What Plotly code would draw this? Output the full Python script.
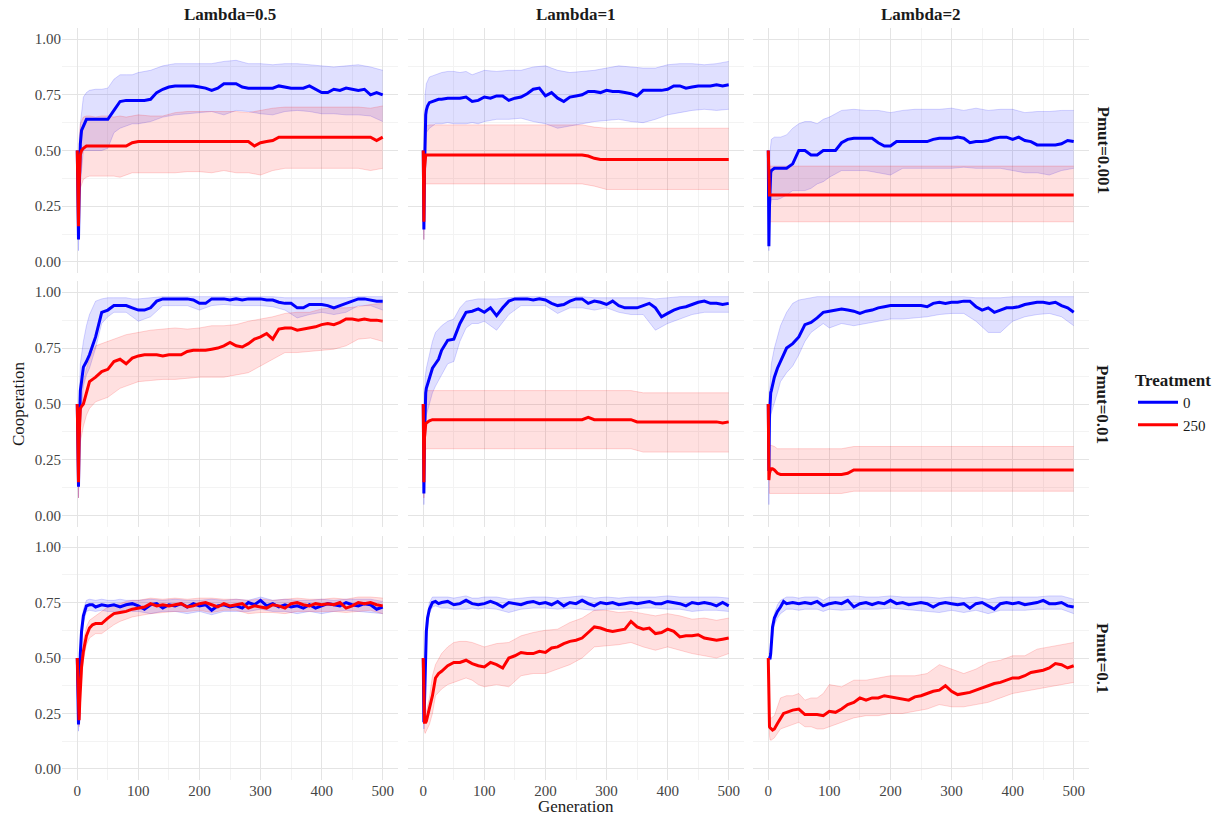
import plotly.graph_objects as go

# ---------------- data ----------------
GEN = [0, 1, 2, 3, 4, 5, 7, 10, 15, 20, 25, 30,
       40, 50, 60, 70, 80, 90, 100, 110, 120, 130,
       140, 150, 160, 170, 180, 190, 200, 210, 220, 230,
       240, 250, 260, 270, 280, 290, 300, 310, 320, 330,
       340, 350, 360, 370, 380, 390, 400, 410, 420, 430,
       440, 450, 460, 470, 480, 490, 500]

GEN_BAND = [0, 1, 2, 3, 5, 10, 15, 20,
            30, 40, 50, 60, 70, 80, 90, 100,
            120, 140, 160, 180, 200, 220, 240, 260, 280, 300,
            320, 340, 360, 380, 400, 420, 440, 460, 480, 500]

LAMBDAS = ["0.5", "1", "2"]
PMUTS = ["0.001", "0.01", "0.1"]
TREATMENTS = ["0", "250"]

# ----- Lambda=0.5, Pmut=0.001 -----
L05_P0001_T0 = [0.50, 0.18, 0.10, 0.30, 0.45, 0.53, 0.59, 0.61, 0.64, 0.64, 0.64, 0.64,
                0.64, 0.64, 0.68, 0.72, 0.725, 0.725, 0.725, 0.725, 0.73, 0.76,
                0.775, 0.785, 0.79, 0.79, 0.79, 0.79, 0.785, 0.78, 0.77, 0.78,
                0.80, 0.80, 0.80, 0.785, 0.78, 0.78, 0.78, 0.78, 0.78, 0.79,
                0.785, 0.78, 0.78, 0.78, 0.79, 0.775, 0.76, 0.76, 0.775, 0.77,
                0.78, 0.775, 0.77, 0.775, 0.75, 0.76, 0.75]
L05_P0001_T250 = [0.50, 0.30, 0.16, 0.35, 0.45, 0.48, 0.50, 0.51, 0.52, 0.52, 0.52, 0.52,
                  0.52, 0.52, 0.52, 0.52, 0.52, 0.535, 0.54, 0.54, 0.54, 0.54,
                  0.54, 0.54, 0.54, 0.54, 0.54, 0.54, 0.54, 0.54, 0.54, 0.54,
                  0.54, 0.54, 0.54, 0.54, 0.54, 0.52, 0.535, 0.54, 0.545, 0.56,
                  0.56, 0.56, 0.56, 0.56, 0.56, 0.56, 0.56, 0.56, 0.56, 0.56,
                  0.56, 0.56, 0.56, 0.56, 0.56, 0.545, 0.56]
L05_P0001_T0_HI = [0.50, 0.30, 0.25, 0.45, 0.62, 0.74, 0.76, 0.77,
                   0.775, 0.775, 0.78, 0.82, 0.84, 0.84, 0.84, 0.85,
                   0.86, 0.88, 0.89, 0.89, 0.89, 0.89, 0.90, 0.905, 0.89, 0.89,
                   0.885, 0.89, 0.89, 0.885, 0.88, 0.875, 0.88, 0.885, 0.875, 0.86]
L05_P0001_T0_LO = [0.50, 0.08, 0.05, 0.20, 0.35, 0.50, 0.50, 0.50,
                   0.50, 0.50, 0.51, 0.58, 0.60, 0.61, 0.62, 0.62,
                   0.63, 0.65, 0.66, 0.665, 0.67, 0.675, 0.66, 0.68, 0.675, 0.665,
                   0.66, 0.675, 0.68, 0.675, 0.665, 0.665, 0.66, 0.66, 0.655, 0.63]
L05_P0001_T250_HI = [0.50, 0.45, 0.40, 0.55, 0.62, 0.65, 0.655, 0.655,
                     0.65, 0.655, 0.655, 0.65, 0.655, 0.65, 0.655, 0.66,
                     0.655, 0.655, 0.67, 0.675, 0.675, 0.675, 0.675, 0.675, 0.67, 0.68,
                     0.69, 0.695, 0.695, 0.695, 0.695, 0.695, 0.695, 0.695, 0.69, 0.70]
L05_P0001_T250_LO = [0.50, 0.18, 0.10, 0.25, 0.33, 0.37, 0.38, 0.385,
                     0.385, 0.385, 0.385, 0.385, 0.38, 0.39, 0.40, 0.40,
                     0.40, 0.40, 0.40, 0.405, 0.405, 0.40, 0.41, 0.40, 0.40, 0.39,
                     0.41, 0.42, 0.42, 0.42, 0.42, 0.42, 0.42, 0.42, 0.41, 0.42]

# ----- Lambda=1, Pmut=0.001 -----
L1_P0001_T0 = [0.50, 0.145, 0.40, 0.60, 0.66, 0.68, 0.70, 0.715, 0.72, 0.725, 0.73, 0.73,
               0.735, 0.735, 0.735, 0.74, 0.72, 0.725, 0.74, 0.735, 0.745, 0.745,
               0.725, 0.735, 0.74, 0.755, 0.775, 0.78, 0.745, 0.76, 0.735, 0.72,
               0.74, 0.745, 0.75, 0.765, 0.765, 0.76, 0.77, 0.765, 0.765, 0.76,
               0.755, 0.745, 0.77, 0.77, 0.77, 0.77, 0.775, 0.79, 0.79, 0.78,
               0.785, 0.79, 0.79, 0.79, 0.795, 0.79, 0.795]
L1_P0001_T250 = [0.50, 0.18, 0.42, 0.47, 0.48, 0.48, 0.48, 0.48, 0.48, 0.48, 0.48, 0.48,
                 0.48, 0.48, 0.48, 0.48, 0.48, 0.48, 0.48, 0.48, 0.48, 0.48,
                 0.48, 0.48, 0.48, 0.48, 0.48, 0.48, 0.48, 0.48, 0.48, 0.48,
                 0.48, 0.48, 0.48, 0.475, 0.465, 0.46, 0.46, 0.46, 0.46, 0.46,
                 0.46, 0.46, 0.46, 0.46, 0.46, 0.46, 0.46, 0.46, 0.46, 0.46,
                 0.46, 0.46, 0.46, 0.46, 0.46, 0.46, 0.46]
L1_P0001_T0_HI = [0.50, 0.30, 0.55, 0.75, 0.80, 0.83, 0.835, 0.84,
                  0.85, 0.855, 0.855, 0.85, 0.855, 0.84, 0.85, 0.86,
                  0.855, 0.86, 0.86, 0.875, 0.88, 0.86, 0.85, 0.855, 0.86, 0.87,
                  0.88, 0.875, 0.87, 0.87, 0.885, 0.89, 0.89, 0.885, 0.89, 0.90]
L1_P0001_T0_LO = [0.50, 0.10, 0.30, 0.50, 0.58, 0.60, 0.61, 0.62,
                  0.62, 0.625, 0.62, 0.62, 0.62, 0.625, 0.62, 0.63,
                  0.64, 0.64, 0.645, 0.63, 0.62, 0.60, 0.61, 0.62, 0.63, 0.635,
                  0.64, 0.63, 0.625, 0.64, 0.66, 0.67, 0.68, 0.685, 0.68, 0.685]
L1_P0001_T250_HI = [0.50, 0.30, 0.55, 0.60, 0.61, 0.615, 0.615, 0.615,
                    0.615, 0.615, 0.615, 0.615, 0.615, 0.615, 0.615, 0.615,
                    0.615, 0.615, 0.615, 0.615, 0.615, 0.615, 0.615, 0.615, 0.605, 0.60,
                    0.60, 0.60, 0.60, 0.60, 0.60, 0.60, 0.60, 0.60, 0.60, 0.60]
L1_P0001_T250_LO = [0.50, 0.10, 0.33, 0.35, 0.35, 0.35, 0.35, 0.35,
                    0.35, 0.35, 0.35, 0.35, 0.35, 0.35, 0.35, 0.35,
                    0.35, 0.35, 0.35, 0.35, 0.35, 0.35, 0.35, 0.35, 0.34, 0.325,
                    0.325, 0.325, 0.325, 0.325, 0.325, 0.325, 0.325, 0.325, 0.325, 0.325]

# ----- Lambda=2, Pmut=0.001 -----
L2_P0001_T0 = [0.50, 0.07, 0.25, 0.38, 0.40, 0.41, 0.415, 0.42, 0.42, 0.42, 0.42, 0.42,
               0.44, 0.50, 0.50, 0.48, 0.48, 0.50, 0.50, 0.50, 0.535, 0.55,
               0.555, 0.555, 0.555, 0.555, 0.535, 0.52, 0.52, 0.54, 0.54, 0.54,
               0.54, 0.54, 0.54, 0.55, 0.555, 0.555, 0.555, 0.56, 0.555, 0.535,
               0.54, 0.54, 0.545, 0.555, 0.56, 0.56, 0.55, 0.56, 0.545, 0.54,
               0.525, 0.525, 0.525, 0.525, 0.53, 0.545, 0.54]
L2_P0001_T250 = [0.50, 0.30, 0.30, 0.30, 0.30, 0.30, 0.30, 0.30, 0.30, 0.30, 0.30, 0.30,
                 0.30, 0.30, 0.30, 0.30, 0.30, 0.30, 0.30, 0.30, 0.30, 0.30,
                 0.30, 0.30, 0.30, 0.30, 0.30, 0.30, 0.30, 0.30, 0.30, 0.30,
                 0.30, 0.30, 0.30, 0.30, 0.30, 0.30, 0.30, 0.30, 0.30, 0.30,
                 0.30, 0.30, 0.30, 0.30, 0.30, 0.30, 0.30, 0.30, 0.30, 0.30,
                 0.30, 0.30, 0.30, 0.30, 0.30, 0.30, 0.30]
L2_P0001_T0_HI = [0.50, 0.10, 0.40, 0.50, 0.55, 0.56, 0.56, 0.56,
                  0.57, 0.60, 0.62, 0.63, 0.63, 0.62, 0.64, 0.65,
                  0.68, 0.685, 0.68, 0.68, 0.67, 0.68, 0.685, 0.685, 0.685, 0.69,
                  0.68, 0.69, 0.68, 0.685, 0.685, 0.67, 0.675, 0.675, 0.68, 0.68]
L2_P0001_T0_LO = [0.50, 0.05, 0.15, 0.25, 0.28, 0.28, 0.28, 0.285,
                  0.30, 0.32, 0.32, 0.32, 0.33, 0.35, 0.36, 0.38,
                  0.41, 0.41, 0.41, 0.40, 0.39, 0.42, 0.42, 0.42, 0.42, 0.42,
                  0.425, 0.42, 0.42, 0.42, 0.41, 0.40, 0.40, 0.39, 0.41, 0.42]
L2_P0001_T250_HI = [0.50, 0.40, 0.43, 0.43, 0.43, 0.43, 0.43, 0.43,
                    0.43, 0.43, 0.43, 0.43, 0.43, 0.43, 0.43, 0.43,
                    0.43, 0.43, 0.43, 0.43, 0.43, 0.43, 0.43, 0.43, 0.43, 0.43,
                    0.43, 0.43, 0.43, 0.43, 0.43, 0.43, 0.43, 0.43, 0.43, 0.43]
L2_P0001_T250_LO = [0.50, 0.20, 0.18, 0.18, 0.18, 0.18, 0.18, 0.18,
                    0.18, 0.18, 0.18, 0.18, 0.18, 0.18, 0.18, 0.18,
                    0.18, 0.18, 0.18, 0.18, 0.18, 0.18, 0.18, 0.18, 0.18, 0.18,
                    0.18, 0.18, 0.18, 0.18, 0.18, 0.18, 0.18, 0.18, 0.18, 0.18]

# ----- Lambda=0.5, Pmut=0.01 -----
L05_P001_T0 = [0.50, 0.25, 0.13, 0.35, 0.50, 0.56, 0.60, 0.665, 0.69, 0.72, 0.76, 0.80,
               0.91, 0.92, 0.94, 0.94, 0.94, 0.93, 0.92, 0.92, 0.93, 0.96,
               0.97, 0.97, 0.97, 0.97, 0.97, 0.965, 0.95, 0.95, 0.97, 0.97,
               0.97, 0.965, 0.97, 0.965, 0.97, 0.97, 0.97, 0.965, 0.965, 0.955,
               0.95, 0.95, 0.93, 0.93, 0.945, 0.945, 0.945, 0.94, 0.93, 0.94,
               0.95, 0.96, 0.97, 0.97, 0.965, 0.96, 0.96]
L05_P001_T250 = [0.50, 0.30, 0.15, 0.35, 0.45, 0.48, 0.49, 0.50, 0.55, 0.60, 0.61, 0.62,
                 0.645, 0.655, 0.69, 0.70, 0.68, 0.705, 0.715, 0.72, 0.72, 0.72,
                 0.715, 0.72, 0.72, 0.72, 0.735, 0.74, 0.74, 0.74, 0.745, 0.75,
                 0.76, 0.775, 0.76, 0.755, 0.77, 0.79, 0.80, 0.815, 0.79, 0.835,
                 0.84, 0.84, 0.83, 0.835, 0.84, 0.845, 0.855, 0.86, 0.855, 0.865,
                 0.88, 0.88, 0.875, 0.88, 0.875, 0.875, 0.87]
L05_P001_T0_HI = [0.50, 0.35, 0.20, 0.50, 0.68, 0.78, 0.85, 0.90,
                  0.96, 0.97, 0.975, 0.975, 0.975, 0.975, 0.97, 0.97,
                  0.975, 0.98, 0.98, 0.98, 0.98, 0.98, 0.98, 0.98, 0.98, 0.98,
                  0.98, 0.975, 0.975, 0.975, 0.975, 0.975, 0.975, 0.98, 0.98, 0.98]
L05_P001_T0_LO = [0.50, 0.15, 0.08, 0.25, 0.42, 0.58, 0.63, 0.66,
                  0.75, 0.86, 0.89, 0.91, 0.91, 0.91, 0.89, 0.87,
                  0.89, 0.94, 0.94, 0.94, 0.92, 0.94, 0.945, 0.94, 0.94, 0.94,
                  0.935, 0.92, 0.885, 0.90, 0.91, 0.90, 0.91, 0.94, 0.94, 0.92]
L05_P001_T250_HI = [0.50, 0.40, 0.25, 0.45, 0.55, 0.60, 0.66, 0.70,
                    0.76, 0.77, 0.78, 0.79, 0.80, 0.81, 0.815, 0.82,
                    0.83, 0.835, 0.84, 0.835, 0.84, 0.85, 0.85, 0.855, 0.87, 0.88,
                    0.89, 0.905, 0.91, 0.91, 0.925, 0.93, 0.93, 0.935, 0.945, 0.95]
L05_P001_T250_LO = [0.50, 0.20, 0.08, 0.22, 0.33, 0.40, 0.45, 0.48,
                    0.51, 0.52, 0.53, 0.55, 0.57, 0.58, 0.59, 0.60,
                    0.605, 0.61, 0.61, 0.615, 0.62, 0.62, 0.62, 0.63, 0.64, 0.67,
                    0.70, 0.73, 0.73, 0.735, 0.74, 0.745, 0.76, 0.79, 0.795, 0.78]

# ----- Lambda=1, Pmut=0.01 -----
L1_P001_T0 = [0.50, 0.10, 0.35, 0.50, 0.55, 0.57, 0.59, 0.62, 0.66, 0.68, 0.70, 0.74,
              0.785, 0.79, 0.86, 0.91, 0.915, 0.925, 0.91, 0.93, 0.895, 0.93,
              0.96, 0.97, 0.97, 0.97, 0.965, 0.97, 0.965, 0.95, 0.94, 0.945,
              0.96, 0.97, 0.97, 0.95, 0.96, 0.955, 0.945, 0.96, 0.94, 0.93,
              0.93, 0.93, 0.94, 0.95, 0.93, 0.89, 0.905, 0.92, 0.93, 0.935,
              0.945, 0.955, 0.96, 0.95, 0.95, 0.945, 0.95]
L1_P001_T250 = [0.50, 0.15, 0.35, 0.40, 0.41, 0.415, 0.42, 0.425, 0.43, 0.43, 0.43, 0.43,
                0.43, 0.43, 0.43, 0.43, 0.43, 0.43, 0.43, 0.43, 0.43, 0.43,
                0.43, 0.43, 0.43, 0.43, 0.43, 0.43, 0.43, 0.43, 0.43, 0.43,
                0.43, 0.43, 0.43, 0.44, 0.43, 0.43, 0.43, 0.43, 0.43, 0.43,
                0.43, 0.42, 0.42, 0.42, 0.42, 0.42, 0.42, 0.42, 0.42, 0.42,
                0.42, 0.42, 0.42, 0.42, 0.42, 0.415, 0.42]
L1_P001_T0_HI = [0.50, 0.25, 0.50, 0.62, 0.66, 0.72, 0.78, 0.82,
                 0.85, 0.87, 0.88, 0.93, 0.96, 0.965, 0.97, 0.97,
                 0.97, 0.975, 0.98, 0.98, 0.98, 0.98, 0.98, 0.98, 0.975, 0.975,
                 0.975, 0.975, 0.975, 0.97, 0.975, 0.98, 0.98, 0.98, 0.98, 0.98]
L1_P001_T0_LO = [0.50, 0.05, 0.20, 0.38, 0.45, 0.50, 0.55, 0.58,
                 0.63, 0.68, 0.69, 0.78, 0.84, 0.86, 0.86, 0.87,
                 0.83, 0.90, 0.94, 0.94, 0.94, 0.905, 0.93, 0.93, 0.92, 0.93,
                 0.91, 0.90, 0.90, 0.83, 0.86, 0.88, 0.90, 0.91, 0.91, 0.91]
L1_P001_T250_HI = [0.50, 0.30, 0.50, 0.55, 0.56, 0.56, 0.56, 0.56,
                   0.56, 0.56, 0.56, 0.56, 0.56, 0.56, 0.56, 0.56,
                   0.56, 0.56, 0.56, 0.56, 0.56, 0.56, 0.56, 0.56, 0.56, 0.56,
                   0.56, 0.56, 0.55, 0.55, 0.55, 0.55, 0.55, 0.55, 0.55, 0.55]
L1_P001_T250_LO = [0.50, 0.08, 0.25, 0.29, 0.30, 0.30, 0.30, 0.30,
                   0.30, 0.30, 0.30, 0.30, 0.30, 0.30, 0.30, 0.30,
                   0.30, 0.30, 0.30, 0.30, 0.30, 0.30, 0.30, 0.30, 0.30, 0.30,
                   0.30, 0.30, 0.285, 0.285, 0.285, 0.285, 0.285, 0.285, 0.285, 0.285]

# ----- Lambda=2, Pmut=0.01 -----
L2_P001_T0 = [0.50, 0.20, 0.45, 0.52, 0.55, 0.56, 0.59, 0.62, 0.66, 0.69, 0.715, 0.75,
              0.77, 0.80, 0.855, 0.865, 0.885, 0.91, 0.915, 0.92, 0.925, 0.92,
              0.915, 0.905, 0.915, 0.92, 0.93, 0.935, 0.94, 0.94, 0.94, 0.94,
              0.94, 0.94, 0.935, 0.95, 0.955, 0.95, 0.955, 0.955, 0.96, 0.96,
              0.935, 0.92, 0.93, 0.91, 0.92, 0.93, 0.93, 0.935, 0.945, 0.95,
              0.955, 0.955, 0.95, 0.955, 0.94, 0.93, 0.91]
L2_P001_T250 = [0.50, 0.16, 0.19, 0.20, 0.205, 0.21, 0.21, 0.205, 0.19, 0.185, 0.185, 0.185,
                0.185, 0.185, 0.185, 0.185, 0.185, 0.185, 0.185, 0.185, 0.185, 0.19,
                0.205, 0.205, 0.205, 0.205, 0.205, 0.205, 0.205, 0.205, 0.205, 0.205,
                0.205, 0.205, 0.205, 0.205, 0.205, 0.205, 0.205, 0.205, 0.205, 0.205,
                0.205, 0.205, 0.205, 0.205, 0.205, 0.205, 0.205, 0.205, 0.205, 0.205,
                0.205, 0.205, 0.205, 0.205, 0.205, 0.205, 0.205]
L2_P001_T0_HI = [0.50, 0.40, 0.55, 0.62, 0.68, 0.75, 0.80, 0.85,
                 0.91, 0.95, 0.965, 0.97, 0.975, 0.98, 0.98, 0.98,
                 0.98, 0.98, 0.98, 0.98, 0.98, 0.98, 0.98, 0.98, 0.98, 0.98,
                 0.98, 0.975, 0.975, 0.975, 0.98, 0.98, 0.98, 0.98, 0.98, 0.98]
L2_P001_T0_LO = [0.50, 0.05, 0.35, 0.42, 0.46, 0.50, 0.55, 0.60,
                 0.64, 0.67, 0.72, 0.78, 0.82, 0.84, 0.86, 0.84,
                 0.86, 0.85, 0.86, 0.87, 0.88, 0.88, 0.885, 0.89, 0.90, 0.905,
                 0.905, 0.87, 0.82, 0.82, 0.87, 0.89, 0.90, 0.905, 0.89, 0.85]
L2_P001_T250_HI = [0.50, 0.30, 0.31, 0.315, 0.315, 0.31, 0.30, 0.30,
                   0.30, 0.30, 0.30, 0.30, 0.30, 0.30, 0.30, 0.30,
                   0.30, 0.31, 0.31, 0.31, 0.31, 0.31, 0.31, 0.31, 0.31, 0.31,
                   0.31, 0.31, 0.31, 0.31, 0.31, 0.31, 0.31, 0.31, 0.31, 0.31]
L2_P001_T250_LO = [0.50, 0.10, 0.10, 0.10, 0.10, 0.10, 0.10, 0.10,
                   0.10, 0.10, 0.10, 0.10, 0.10, 0.10, 0.10, 0.10,
                   0.10, 0.11, 0.11, 0.11, 0.11, 0.11, 0.11, 0.11, 0.11, 0.11,
                   0.11, 0.11, 0.11, 0.11, 0.11, 0.11, 0.11, 0.11, 0.11, 0.11]

# ----- Lambda=0.5, Pmut=0.1 -----
L05_P01_T0 = [0.50, 0.30, 0.20, 0.30, 0.45, 0.52, 0.62, 0.69, 0.735, 0.74, 0.74, 0.73,
              0.74, 0.735, 0.74, 0.73, 0.74, 0.745, 0.735, 0.72, 0.74, 0.745,
              0.725, 0.74, 0.735, 0.745, 0.73, 0.745, 0.735, 0.74, 0.715, 0.735,
              0.74, 0.73, 0.735, 0.725, 0.75, 0.74, 0.76, 0.735, 0.745, 0.73,
              0.74, 0.73, 0.735, 0.725, 0.74, 0.725, 0.735, 0.745, 0.74, 0.735,
              0.75, 0.74, 0.735, 0.745, 0.74, 0.72, 0.73]
L05_P01_T250 = [0.50, 0.35, 0.25, 0.22, 0.30, 0.38, 0.46, 0.53, 0.60, 0.635, 0.65, 0.655,
                0.655, 0.68, 0.70, 0.705, 0.71, 0.72, 0.725, 0.73, 0.745, 0.735,
                0.74, 0.735, 0.74, 0.745, 0.73, 0.735, 0.745, 0.75, 0.74, 0.73,
                0.745, 0.735, 0.74, 0.745, 0.725, 0.735, 0.73, 0.725, 0.74, 0.735,
                0.725, 0.745, 0.75, 0.74, 0.735, 0.745, 0.74, 0.745, 0.74, 0.75,
                0.725, 0.735, 0.75, 0.745, 0.75, 0.74, 0.735]
L05_P01_T0_HI = [0.50, 0.32, 0.23, 0.34, 0.55, 0.72, 0.76, 0.765,
                 0.76, 0.765, 0.76, 0.76, 0.765, 0.76, 0.76, 0.76,
                 0.765, 0.76, 0.765, 0.76, 0.76, 0.765, 0.76, 0.765, 0.76, 0.775,
                 0.76, 0.765, 0.76, 0.76, 0.765, 0.76, 0.765, 0.765, 0.765, 0.755]
L05_P01_T0_LO = [0.50, 0.25, 0.17, 0.26, 0.48, 0.66, 0.71, 0.715,
                 0.71, 0.715, 0.71, 0.71, 0.71, 0.715, 0.71, 0.71,
                 0.70, 0.71, 0.71, 0.70, 0.71, 0.695, 0.71, 0.71, 0.71, 0.72,
                 0.71, 0.71, 0.70, 0.71, 0.70, 0.71, 0.715, 0.71, 0.705, 0.70]
L05_P01_T250_HI = [0.50, 0.37, 0.28, 0.26, 0.42, 0.58, 0.64, 0.67,
                   0.69, 0.71, 0.73, 0.74, 0.745, 0.755, 0.76, 0.76,
                   0.77, 0.765, 0.77, 0.765, 0.77, 0.77, 0.765, 0.765, 0.76, 0.765,
                   0.76, 0.765, 0.77, 0.765, 0.765, 0.77, 0.765, 0.775, 0.775, 0.77]
L05_P01_T250_LO = [0.50, 0.32, 0.22, 0.19, 0.34, 0.49, 0.56, 0.59,
                   0.61, 0.61, 0.63, 0.65, 0.665, 0.675, 0.685, 0.69,
                   0.70, 0.705, 0.71, 0.71, 0.715, 0.705, 0.715, 0.715, 0.70, 0.705,
                   0.705, 0.70, 0.71, 0.71, 0.71, 0.71, 0.705, 0.71, 0.715, 0.70]

# ----- Lambda=1, Pmut=0.1 -----
L1_P01_T0 = [0.50, 0.21, 0.30, 0.42, 0.50, 0.62, 0.68, 0.72, 0.75, 0.755, 0.745, 0.75,
             0.755, 0.74, 0.745, 0.76, 0.745, 0.74, 0.745, 0.755, 0.745, 0.73,
             0.75, 0.745, 0.74, 0.75, 0.755, 0.745, 0.75, 0.74, 0.755, 0.735,
             0.75, 0.745, 0.76, 0.745, 0.735, 0.75, 0.745, 0.75, 0.74, 0.745,
             0.75, 0.745, 0.75, 0.755, 0.745, 0.745, 0.755, 0.75, 0.745, 0.735,
             0.75, 0.745, 0.75, 0.745, 0.735, 0.75, 0.735]
L1_P01_T250 = [0.50, 0.30, 0.21, 0.21, 0.21, 0.215, 0.24, 0.27, 0.33, 0.41, 0.43, 0.44,
               0.465, 0.48, 0.48, 0.49, 0.475, 0.465, 0.46, 0.48, 0.47, 0.455,
               0.50, 0.51, 0.525, 0.52, 0.52, 0.53, 0.525, 0.545, 0.55, 0.565,
               0.575, 0.58, 0.59, 0.615, 0.64, 0.635, 0.625, 0.62, 0.625, 0.63,
               0.665, 0.64, 0.63, 0.635, 0.61, 0.615, 0.63, 0.62, 0.595, 0.60,
               0.60, 0.605, 0.59, 0.585, 0.58, 0.585, 0.59]
L1_P01_T0_HI = [0.50, 0.24, 0.34, 0.46, 0.66, 0.75, 0.775, 0.775,
                0.775, 0.775, 0.77, 0.775, 0.78, 0.77, 0.77, 0.775,
                0.775, 0.765, 0.77, 0.775, 0.775, 0.77, 0.775, 0.78, 0.77, 0.775,
                0.77, 0.775, 0.775, 0.775, 0.78, 0.775, 0.775, 0.775, 0.775, 0.77]
L1_P01_T0_LO = [0.50, 0.18, 0.26, 0.38, 0.58, 0.70, 0.73, 0.735,
                0.725, 0.725, 0.72, 0.72, 0.72, 0.725, 0.72, 0.725,
                0.72, 0.705, 0.72, 0.725, 0.725, 0.72, 0.725, 0.72, 0.715, 0.72,
                0.72, 0.72, 0.725, 0.725, 0.72, 0.72, 0.71, 0.715, 0.715, 0.71]
L1_P01_T250_HI = [0.50, 0.34, 0.25, 0.25, 0.26, 0.32, 0.42, 0.47,
                  0.52, 0.55, 0.57, 0.575, 0.575, 0.57, 0.56, 0.55,
                  0.565, 0.57, 0.60, 0.615, 0.625, 0.63, 0.66, 0.68, 0.715, 0.715,
                  0.705, 0.71, 0.70, 0.69, 0.70, 0.69, 0.675, 0.68, 0.67, 0.68]
L1_P01_T250_LO = [0.50, 0.26, 0.17, 0.16, 0.17, 0.20, 0.25, 0.33,
                  0.36, 0.38, 0.39, 0.40, 0.41, 0.40, 0.38, 0.37,
                  0.38, 0.37, 0.42, 0.43, 0.43, 0.45, 0.47, 0.50, 0.55, 0.555,
                  0.56, 0.57, 0.55, 0.535, 0.55, 0.535, 0.52, 0.51, 0.50, 0.52]

# ----- Lambda=2, Pmut=0.1 -----
L2_P01_T0 = [0.50, 0.50, 0.50, 0.50, 0.52, 0.58, 0.64, 0.68, 0.71, 0.73, 0.755, 0.745,
             0.75, 0.745, 0.75, 0.745, 0.755, 0.735, 0.745, 0.75, 0.745, 0.76,
             0.73, 0.745, 0.75, 0.74, 0.75, 0.745, 0.76, 0.745, 0.75, 0.74,
             0.745, 0.75, 0.745, 0.73, 0.745, 0.75, 0.745, 0.74, 0.745, 0.725,
             0.745, 0.75, 0.735, 0.72, 0.745, 0.75, 0.745, 0.75, 0.74, 0.745,
             0.75, 0.76, 0.745, 0.745, 0.75, 0.735, 0.73]
L2_P01_T250 = [0.50, 0.28, 0.19, 0.185, 0.18, 0.18, 0.175, 0.18, 0.205, 0.23, 0.25, 0.255,
               0.265, 0.27, 0.245, 0.245, 0.245, 0.24, 0.26, 0.255, 0.27, 0.29,
               0.30, 0.32, 0.31, 0.32, 0.32, 0.33, 0.325, 0.32, 0.315, 0.31,
               0.325, 0.33, 0.34, 0.35, 0.355, 0.375, 0.35, 0.335, 0.34, 0.345,
               0.355, 0.365, 0.375, 0.385, 0.39, 0.40, 0.41, 0.41, 0.42, 0.435,
               0.44, 0.445, 0.455, 0.475, 0.47, 0.455, 0.465]
L2_P01_T0_HI = [0.50, 0.50, 0.50, 0.51, 0.60, 0.70, 0.74, 0.76,
                0.775, 0.775, 0.77, 0.775, 0.775, 0.775, 0.76, 0.775,
                0.775, 0.78, 0.775, 0.775, 0.78, 0.775, 0.775, 0.775, 0.77, 0.775,
                0.77, 0.775, 0.765, 0.775, 0.775, 0.775, 0.775, 0.78, 0.78, 0.765]
L2_P01_T0_LO = [0.50, 0.50, 0.50, 0.49, 0.55, 0.65, 0.68, 0.70,
                0.72, 0.72, 0.715, 0.72, 0.72, 0.72, 0.71, 0.72,
                0.715, 0.72, 0.72, 0.72, 0.725, 0.72, 0.715, 0.71, 0.705, 0.715,
                0.705, 0.715, 0.70, 0.715, 0.715, 0.715, 0.72, 0.72, 0.72, 0.70]
L2_P01_T250_HI = [0.50, 0.32, 0.24, 0.23, 0.23, 0.24, 0.28, 0.32,
                  0.33, 0.33, 0.34, 0.31, 0.32, 0.32, 0.34, 0.38,
                  0.37, 0.40, 0.40, 0.41, 0.42, 0.42, 0.42, 0.43, 0.47, 0.45,
                  0.43, 0.45, 0.48, 0.49, 0.51, 0.51, 0.54, 0.55, 0.56, 0.57]
L2_P01_T250_LO = [0.50, 0.24, 0.15, 0.13, 0.13, 0.14, 0.16, 0.18,
                  0.19, 0.20, 0.21, 0.19, 0.19, 0.18, 0.18, 0.19,
                  0.21, 0.23, 0.24, 0.24, 0.25, 0.25, 0.26, 0.27, 0.29, 0.28,
                  0.28, 0.29, 0.30, 0.32, 0.34, 0.35, 0.36, 0.37, 0.38, 0.39]

Y_TICKS = [0, 0.25, 0.5, 0.75, 1.0]
Y_TICK_LABELS = ["0.00", "0.25", "0.50", "0.75", "1.00"]
X_TICKS = [0, 100, 200, 300, 400, 500]

# panel table: (row Pmut, col Lambda) -> (T0 mean, T0 lo, T0 hi, T250 mean, T250 lo, T250 hi)
PANELS = {
    (0, 0): (L05_P0001_T0, L05_P0001_T0_LO, L05_P0001_T0_HI, L05_P0001_T250, L05_P0001_T250_LO, L05_P0001_T250_HI),
    (0, 1): (L1_P0001_T0, L1_P0001_T0_LO, L1_P0001_T0_HI, L1_P0001_T250, L1_P0001_T250_LO, L1_P0001_T250_HI),
    (0, 2): (L2_P0001_T0, L2_P0001_T0_LO, L2_P0001_T0_HI, L2_P0001_T250, L2_P0001_T250_LO, L2_P0001_T250_HI),
    (1, 0): (L05_P001_T0, L05_P001_T0_LO, L05_P001_T0_HI, L05_P001_T250, L05_P001_T250_LO, L05_P001_T250_HI),
    (1, 1): (L1_P001_T0, L1_P001_T0_LO, L1_P001_T0_HI, L1_P001_T250, L1_P001_T250_LO, L1_P001_T250_HI),
    (1, 2): (L2_P001_T0, L2_P001_T0_LO, L2_P001_T0_HI, L2_P001_T250, L2_P001_T250_LO, L2_P001_T250_HI),
    (2, 0): (L05_P01_T0, L05_P01_T0_LO, L05_P01_T0_HI, L05_P01_T250, L05_P01_T250_LO, L05_P01_T250_HI),
    (2, 1): (L1_P01_T0, L1_P01_T0_LO, L1_P01_T0_HI, L1_P01_T250, L1_P01_T250_LO, L1_P01_T250_HI),
    (2, 2): (L2_P01_T0, L2_P01_T0_LO, L2_P01_T0_HI, L2_P01_T250, L2_P01_T250_LO, L2_P01_T250_HI),
}

for key, arrs in PANELS.items():
    for i, a in enumerate(arrs):
        n = len(GEN) if i in (0, 3) else len(GEN_BAND)
        if len(a) != n:
            raise ValueError(f"panel {key} array {i} has {len(a)} values, expected {n}")

# ---------------- styling ----------------
W, H = 1228, 819
FONT = "Liberation Serif"
COL_PX = [(62, 398), (408, 744), (753, 1089)]
ROW_PX = [(28, 273), (281, 527), (536, 780)]
COLORS = {"0": "#0000ff", "250": "#ff0000"}
FILLS = {"0": "rgba(0,0,255,0.12)", "250": "rgba(255,0,0,0.12)"}
EDGES = {"0": "rgba(0,0,255,0.16)", "250": "rgba(255,0,0,0.16)"}

fig = go.Figure()
layout = {}

for (r, c), (b, b_lo, b_hi, rd, r_lo, r_hi) in PANELS.items():
    k = r * 3 + c
    s = "" if k == 0 else str(k + 1)
    xa, ya = "x" + s, "y" + s
    x0, x1 = COL_PX[c]
    y0, y1 = ROW_PX[r]
    layout["xaxis" + s] = dict(
        domain=[x0 / W, x1 / W], anchor=ya, range=[-25, 525],
        tickvals=X_TICKS, showticklabels=(r == 2),
        showgrid=True, gridcolor="#e4e4e4", gridwidth=1,
        minor=dict(dtick=50, tick0=0, showgrid=True, gridcolor="#f3f3f3", gridwidth=1),
        zeroline=False, showline=False, ticks="",
        tickfont=dict(family=FONT, size=15, color="#444444"),
    )
    layout["yaxis" + s] = dict(
        domain=[1 - y1 / H, 1 - y0 / H], anchor=xa, range=[-0.05, 1.05],
        tickvals=Y_TICKS, ticktext=Y_TICK_LABELS, showticklabels=(c == 0),
        showgrid=True, gridcolor="#e4e4e4", gridwidth=1,
        minor=dict(dtick=0.125, tick0=0, showgrid=True, gridcolor="#f3f3f3", gridwidth=1),
        zeroline=False, showline=False, ticks="",
        tickfont=dict(family=FONT, size=15, color="#444444"),
    )
    # ribbons
    for t, lo, hi in (("0", b_lo, b_hi), ("250", r_lo, r_hi)):
        fig.add_trace(go.Scatter(x=GEN_BAND, y=lo, xaxis=xa, yaxis=ya, mode="lines",
                                 line=dict(color=EDGES[t], width=1), showlegend=False,
                                 hoverinfo="skip"))
        fig.add_trace(go.Scatter(x=GEN_BAND, y=hi, xaxis=xa, yaxis=ya, mode="lines",
                                 line=dict(color=EDGES[t], width=1), fill="tonexty",
                                 fillcolor=FILLS[t], showlegend=False, hoverinfo="skip"))
    # mean lines
    for t, m in (("0", b), ("250", rd)):
        fig.add_trace(go.Scatter(x=GEN, y=m, xaxis=xa, yaxis=ya, mode="lines",
                                 line=dict(color=COLORS[t], width=3),
                                 name=t, legendgroup=t, showlegend=(k == 0)))

annotations = []
for c, lam in enumerate(LAMBDAS):
    x0, x1 = COL_PX[c]
    annotations.append(dict(text="<b>Lambda=" + lam + "</b>", x=(x0 + x1) / 2 / W, y=1 - 14 / H,
                            xref="paper", yref="paper", showarrow=False,
                            font=dict(family=FONT, size=17, color="#1a1a1a"),
                            xanchor="center", yanchor="middle"))
for r, pm in enumerate(PMUTS):
    y0, y1 = ROW_PX[r]
    annotations.append(dict(text="<b>Pmut=" + pm + "</b>", x=1103 / W, y=1 - (y0 + y1) / 2 / H,
                            xref="paper", yref="paper", showarrow=False, textangle=90,
                            font=dict(family=FONT, size=17, color="#1a1a1a"),
                            xanchor="center", yanchor="middle"))
annotations.append(dict(text="Generation", x=(COL_PX[0][0] + COL_PX[2][1]) / 2 / W, y=1 - 806 / H,
                        xref="paper", yref="paper", showarrow=False,
                        font=dict(family=FONT, size=17, color="#1a1a1a"),
                        xanchor="center", yanchor="middle"))
annotations.append(dict(text="Cooperation", x=18 / W, y=1 - (ROW_PX[0][0] + ROW_PX[2][1]) / 2 / H,
                        xref="paper", yref="paper", showarrow=False, textangle=-90,
                        font=dict(family=FONT, size=17, color="#1a1a1a"),
                        xanchor="center", yanchor="middle"))

fig.update_layout(
    width=W, height=H, margin=dict(l=0, r=0, t=0, b=0),
    paper_bgcolor="white", plot_bgcolor="white",
    font=dict(family=FONT, size=15, color="#1a1a1a"),
    annotations=annotations,
    showlegend=True,
    legend=dict(title=dict(text="<b>Treatment</b>", font=dict(family=FONT, size=17)),
                x=1133 / W, xanchor="left", y=1 - 364 / H, yanchor="top",
                font=dict(family=FONT, size=15, color="#1a1a1a"),
                bgcolor="rgba(0,0,0,0)", itemwidth=40, tracegroupgap=0),
    **layout,
)

fig.write_html("out.html")
